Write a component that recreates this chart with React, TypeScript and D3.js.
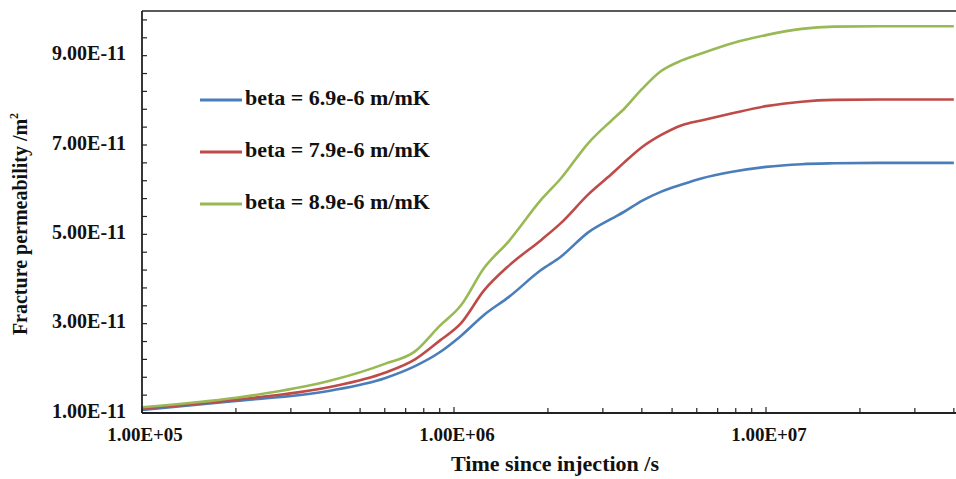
import * as d3 from "d3";

// time since injection (s)
const times = [
  1e5, 2e5, 4e5, 6e5, 7.5e5, 9e5, 1.05e6, 1.25e6, 1.5e6, 1.9e6, 2.2e6, 2.7e6,
  3.2e6, 3.5e6, 4e6, 4.6e6, 5.4e6, 6.2e6, 7.8e6, 1e7, 1.3e7, 1.65e7, 2.3e7, 4e7,
];

// fracture permeability, in units of 1e-11 m^2
const beta69 = [
  1.07, 1.27, 1.5, 1.78, 2.05, 2.36, 2.72, 3.2, 3.6, 4.2, 4.5, 5.05,
  5.35, 5.5, 5.75, 5.95, 6.12, 6.25, 6.4, 6.51, 6.57, 6.59, 6.6, 6.6,
];
const beta79 = [
  1.1, 1.3, 1.58, 1.9, 2.2, 2.62, 3.0, 3.75, 4.3, 4.87, 5.25, 5.9,
  6.35, 6.6, 6.95, 7.22, 7.45, 7.55, 7.71, 7.87, 7.97, 8.01, 8.02, 8.02,
];
const beta89 = [
  1.13, 1.34, 1.72, 2.1, 2.38, 2.95, 3.4, 4.25, 4.85, 5.77, 6.25, 7.05,
  7.55, 7.8, 8.25, 8.65, 8.9, 9.05, 9.28, 9.46, 9.6, 9.65, 9.66, 9.66,
];

const seriesNames = ["beta = 6.9e-6 m/mK", "beta = 7.9e-6 m/mK", "beta = 8.9e-6 m/mK"];
const seriesColors = ["#4A7EBB", "#BE4B48", "#98B954"];
const yTickValues = [1e-11, 3e-11, 5e-11, 7e-11, 9e-11];
const xTickValues = [1e5, 1e6, 1e7];

const W = 956;
const H = 479;
const font = "'Liberation Serif', 'Times New Roman', serif";

// 9.00E-11 style labels
const fmtExp = (v: number) => {
  const e = Math.floor(Math.log10(v) + 1e-9);
  const m = v / Math.pow(10, e);
  const sign = e < 0 ? "-" : "+";
  return `${m.toFixed(2)}E${sign}${String(Math.abs(e)).padStart(2, "0")}`;
};

export default function App() {
  const left = 142;
  const top = 11;
  const bottom = 413;
  const decade = 312;

  const x = d3.scaleLog().domain([1e5, 1e8]).range([left, left + 3 * decade]);
  const y = d3.scaleLinear().domain([1e-11, 1e-10]).range([bottom, top]);

  const series = [beta69, beta79, beta89];
  const line = d3
    .line<number>()
    .x((_, i) => x(times[i]))
    .y((d) => y(d * 1e-11))
    .curve(d3.curveMonotoneX);

  // minor ticks
  const xMinor: number[] = [];
  for (let e = 5; e < 8; e++) {
    for (let k = 1; k < 10; k++) xMinor.push(k * Math.pow(10, e));
  }
  const yMinor = d3.range(0, 23).map((i) => 1e-11 + i * 0.4e-11);

  return (
    <div style={{ position: "absolute", left: 0, top: 0 }}>
      <svg width={W} height={H} style={{ display: "block", background: "#fff" }}>
        {/* series */}
        {series.map((s, i) => (
          <path key={i} d={line(s) || ""} fill="none" stroke={seriesColors[i]} strokeWidth={2.6} />
        ))}

        {/* frame */}
        <line x1={left} x2={W} y1={top} y2={top} stroke="#222" strokeWidth={1.5} />
        <line x1={left} x2={left} y1={top} y2={bottom} stroke="#222" strokeWidth={1.8} />
        <line x1={left} x2={W} y1={bottom} y2={bottom} stroke="#222" strokeWidth={1.8} />

        {/* x ticks */}
        {xMinor.map((t) => (
          <line
            key={`xt${t}`}
            x1={x(t)}
            x2={x(t)}
            y1={bottom}
            y2={bottom - (xTickValues.includes(t) ? 6 : 5)}
            stroke="#222"
            strokeWidth={1.2}
          />
        ))}
        {xTickValues.map((t) => (
          <text
            key={`xl${t}`}
            x={x(t) + 3}
            y={437}
            textAnchor="middle"
            dominantBaseline="middle"
            fontFamily={font}
            fontWeight="bold"
            fontSize={19}
            fill="#111"
          >
            {fmtExp(t)}
          </text>
        ))}

        {/* y ticks */}
        {yMinor.map((v, i) => (
          <line
            key={`yt${i}`}
            x1={left}
            x2={left + 5}
            y1={y(v)}
            y2={y(v)}
            stroke="#222"
            strokeWidth={1.2}
          />
        ))}
        {yTickValues.map((v) => (
          <text
            key={`yl${v}`}
            x={126}
            y={y(v)}
            textAnchor="end"
            dominantBaseline="middle"
            fontFamily={font}
            fontWeight="bold"
            fontSize={20}
            fill="#111"
          >
            {fmtExp(v)}
          </text>
        ))}

        {/* axis titles */}
        <text
          x={555}
          y={466}
          textAnchor="middle"
          dominantBaseline="middle"
          fontFamily={font}
          fontWeight="bold"
          fontSize={22}
          fill="#111"
        >
          Time since injection /s
        </text>
        <text
          transform={`translate(22,${224}) rotate(-90)`}
          textAnchor="middle"
          dominantBaseline="middle"
          fontFamily={font}
          fontWeight="bold"
          fontSize={20}
          fill="#111"
        >
          Fracture permeability /m<tspan dy={-7} fontSize={12}>2</tspan>
        </text>

        {/* legend */}
        {seriesNames.map((name, i) => {
          const ly = 100 + i * 52;
          return (
            <g key={name}>
              <line x1={200} x2={242} y1={ly} y2={ly} stroke={seriesColors[i]} strokeWidth={3} />
              <text
                x={245}
                y={ly}
                dominantBaseline="middle"
                fontFamily={font}
                fontWeight="bold"
                fontSize={22}
                fill="#111"
              >
                {name}
              </text>
            </g>
          );
        })}
      </svg>
    </div>
  );
}
